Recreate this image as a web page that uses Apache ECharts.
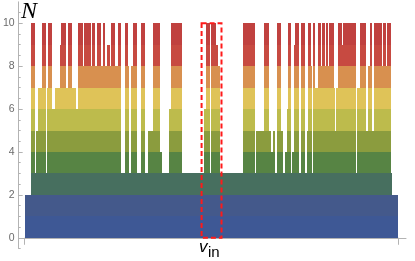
<!DOCTYPE html>
<html><head><meta charset="utf-8">
<script src="https://cdn.jsdelivr.net/npm/echarts@6/dist/echarts.min.js"></script>
<style>html,body{margin:0;padding:0;background:#fff}#c{width:415px;height:261px}</style>
</head><body><div id="c"></div>
<script>
// Histogram of N over v: each segment starts at segStart[i] and runs to the next start (last one to vEnd)
const segStart = [23,29,33,34,36,40,44,45,46,50,53,58,60,65,67,71,75,77,82,83,90,91,94,96,100,102,104,106,109,110,114,117,120,124,127,128,130,132,136,140,144,147,152,159,161,168,170,181,203,205,209,210,215,217,219,242,254,255,263,268,270,272,274,276,280,282,284,286,287,291,292,294,295,299,301,305,307,308,311,312,313,315,318,321,322,325,326,328,329,334,335,336,338,342,343,356,357,360,366,368,370,372,374,382,383,386,387,391,392];
const segLevel = [2,10,3,5,7,10,3,7,10,6,7,9,10,7,10,7,6,10,8,10,8,10,8,10,8,10,8,9,8,10,8,10,3,10,8,3,8,10,3,10,3,5,10,4,3,6,10,3,6,10,3,10,9,8,3,10,3,5,10,5,4,5,3,10,5,3,4,6,10,3,4,9,10,3,10,3,5,10,8,3,10,7,10,8,10,8,10,8,10,7,5,7,10,9,10,3,7,10,5,8,10,5,10,8,10,8,10,3,2];
const vEnd = 398;
const vRange = [17, 406];
const vTicks = [23, 398];
const vinWindow = [200.7, 220.7];
const vinLevels = [0, 10];
const yLabels = [0, 2, 4, 6, 8, 10];
const yMinor = [-0.5,0.5,1,1.5,2.5,3,3.5,4.5,5,5.5,6.5,7,7.5,8.5,9,9.5,10.5];
const bandColors = ['#3e5895','#44598b','#476f5f','#578444','#8b9c3e','#bdbb4c','#dfc358','#d8904f','#c74a41','#c0413f'];

const segData = segStart.map((s, i) => [s, i + 1 < segStart.length ? segStart[i + 1] : vEnd, segLevel[i]]);

const chart = echarts.init(document.getElementById('c'), null, {renderer: 'canvas'});
chart.setOption({
  animation: false,
  grid: {left: 17, right: 9, top: 1.85, bottom: 12.5},
  xAxis: {
    type: 'value', min: vRange[0], max: vRange[1],
    axisLine: {show: true, onZero: true, lineStyle: {color: '#b3b3b3', width: 1}},
    axisTick: {show: true, customValues: vTicks, length: 7, lineStyle: {color: '#b3b3b3'}},
    axisLabel: {show: false}, splitLine: {show: false}
  },
  yAxis: [{
    type: 'value', min: -0.5, max: 11,
    axisLine: {show: true, onZero: false, lineStyle: {color: '#b3b3b3'}},
    axisTick: {show: true, inside: true, length: 4, customValues: yLabels, lineStyle: {color: '#b3b3b3'}},
    axisLabel: {customValues: yLabels, color: '#6b6b6b', fontSize: 10.5, fontFamily: 'Liberation Sans', margin: 4},
    splitLine: {show: false}
  }, {
    type: 'value', min: -0.5, max: 11, position: 'left',
    axisLine: {show: false},
    axisTick: {show: true, inside: true, length: 2, customValues: yMinor, lineStyle: {color: '#b3b3b3'}},
    axisLabel: {show: false}, splitLine: {show: false}
  }],
  series: [{
    type: 'custom',
    yAxisIndex: 0,
    data: segData,
    encode: {x: [0, 1], y: 2},
    z: 2,
    renderItem: function (params, api) {
      const s = api.value(0), e = api.value(1), n = api.value(2);
      const children = [];
      for (let k = 0; k < n; k++) {
        const p0 = api.coord([s, k + 1]);
        const p1 = api.coord([e, k]);
        const x0 = Math.round(p0[0]), x1 = Math.round(p1[0]);
        const y0 = Math.round(p0[1]), y1 = Math.round(p1[1]);
        children.push({type: 'rect', shape: {x: x0, y: y0, width: x1 - x0, height: y1 - y0}, style: {fill: bandColors[k]}});
      }
      return {type: 'group', children: children};
    }
  }, {
    type: 'custom',
    yAxisIndex: 0,
    data: [[vinWindow[0], vinWindow[1], vinLevels[0], vinLevels[1]]],
    encode: {x: [0, 1], y: [2, 3]},
    z: 5,
    renderItem: function (params, api) {
      const p0 = api.coord([api.value(0), api.value(3)]);
      const p1 = api.coord([api.value(1), api.value(2)]);
      return {type: 'rect', shape: {x: p0[0], y: p0[1], width: p1[0] - p0[0], height: p1[1] - p0[1]},
        style: {fill: 'none', stroke: '#ff1a1a', lineWidth: 2, lineDash: [5, 3]}};
    }
  }],
  graphic: [
    {type: 'text', left: 21, top: 0, style: {text: 'N', font: 'italic 24px "Liberation Serif"', fill: '#000'}},
    {type: 'text', left: 199, top: 239, style: {text: 'v', font: 'italic 17px "Liberation Sans"', fill: '#000'}},
    {type: 'text', left: 208, top: 245.5, style: {text: 'in', font: '15px "Liberation Sans"', fill: '#000'}}
  ]
});
</script>
</body></html>
